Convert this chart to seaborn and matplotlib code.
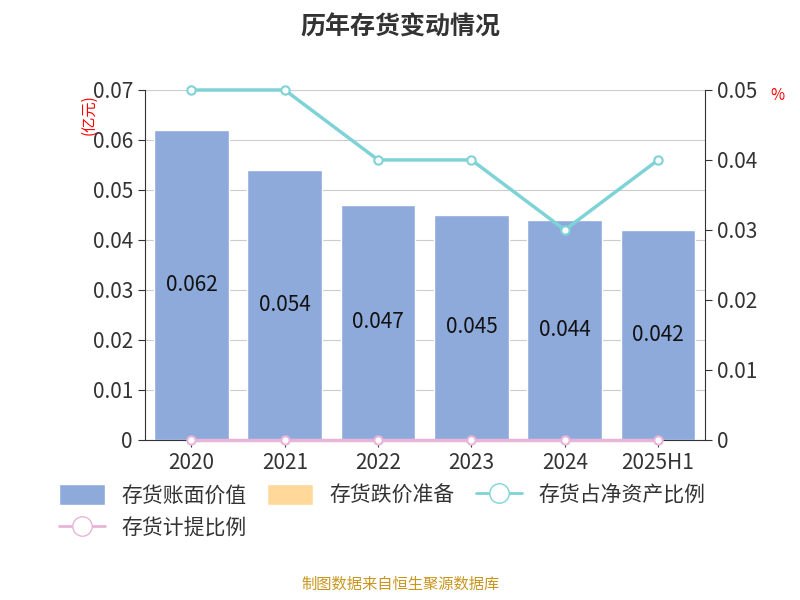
import matplotlib
matplotlib.use('Agg')
import matplotlib.pyplot as plt
import seaborn as sns
import pandas as pd
from matplotlib.patches import Patch
from matplotlib.lines import Line2D

sns.set_style('white')
plt.rcParams['font.family'] = ['Noto Sans CJK SC', 'DejaVu Sans']

years = ['2020', '2021', '2022', '2023', '2024', '2025H1']
book_value = [0.062, 0.054, 0.047, 0.045, 0.044, 0.042]
impairment = [0, 0, 0, 0, 0, 0]
net_asset_ratio = [0.05, 0.05, 0.04, 0.04, 0.03, 0.04]
provision_ratio = [0, 0, 0, 0, 0, 0]

df = pd.DataFrame({'year': years, 'book': book_value})

fig = plt.figure(figsize=(8, 6), dpi=100)
ax = fig.add_axes([0.181, 0.267, 0.70, 0.583])
sns.barplot(x='year', y='book', data=df, color='#8eaadb', saturation=1, width=0.8, ax=ax)
ax.set_ylim(0, 0.07)
ax.set_yticks([i / 100 for i in range(8)])
ax.set_yticklabels(['0'] + [f'{i/100:.2f}' for i in range(1, 8)])
ax.yaxis.grid(True, color='#cccccc')
ax.set_axisbelow(True)
ax.set_xlabel('')
ax.set_ylabel('')
ax.tick_params(labelsize=15, colors='#333333', length=5, left=True, bottom=True)
for s in ['top', 'right']:
    ax.spines[s].set_visible(False)
ax.spines['left'].set_color('#333333')
ax.spines['bottom'].set_color('#333333')
for i, v in enumerate(book_value):
    ax.text(i, v / 2, f'{v:g}', ha='center', va='center', fontsize=15, color='#111111')
ax.text(-0.1, 0.93, '(亿元)', transform=ax.transAxes, rotation=90, color='red', fontsize=11, ha='center', va='center')

ax2 = ax.twinx()
ax2.plot(range(6), net_asset_ratio, color='#7fd3d6', lw=2.5, marker='o', ms=6, mfc='white', mec='#7fd3d6', mew=1.5, clip_on=False)
ax2.plot(range(6), provision_ratio, color='#e8b4d8', lw=2.5, marker='o', ms=6, mfc='white', mec='#e8b4d8', mew=1.5, clip_on=False)
ax2.set_ylim(0, 0.05)
ax2.set_yticks([i / 100 for i in range(6)])
ax2.set_yticklabels(['0'] + [f'{i/100:.2f}' for i in range(1, 6)])
ax2.tick_params(labelsize=15, colors='#333333', length=5, right=True)
for s in ['top', 'left', 'bottom']:
    ax2.spines[s].set_visible(False)
ax2.spines['right'].set_color('#333333')
ax2.text(1.13, 0.985, '%', transform=ax2.transAxes, color='red', fontsize=11, ha='center', va='center')
ax.set_xlim(-0.5, 5.5)

fig.suptitle('历年存货变动情况', fontsize=18, fontweight='bold', color='#333333', y=0.975)

h_book = Patch(facecolor='#8eaadb', label='存货账面价值')
h_imp = Patch(facecolor='#ffd89a', label='存货跌价准备')
h_net = Line2D([0], [0], color='#7fd3d6', lw=2, marker='o', ms=14, mfc='white', label='存货占净资产比例')
h_prov = Line2D([0], [0], color='#e8b4d8', lw=2, marker='o', ms=14, mfc='white', label='存货计提比例')
fig.legend(handles=[h_book, h_prov, h_imp, h_net], loc='upper left', bbox_to_anchor=(0.05, 0.225), ncol=3, frameon=False,
           fontsize=15, handlelength=2.2, handleheight=1.2, columnspacing=1.0, labelcolor='#333333')

fig.text(0.5, 0.018, '制图数据来自恒生聚源数据库', ha='center', fontsize=11, color='#c8961e')

fig.savefig('out.png', dpi=100)
